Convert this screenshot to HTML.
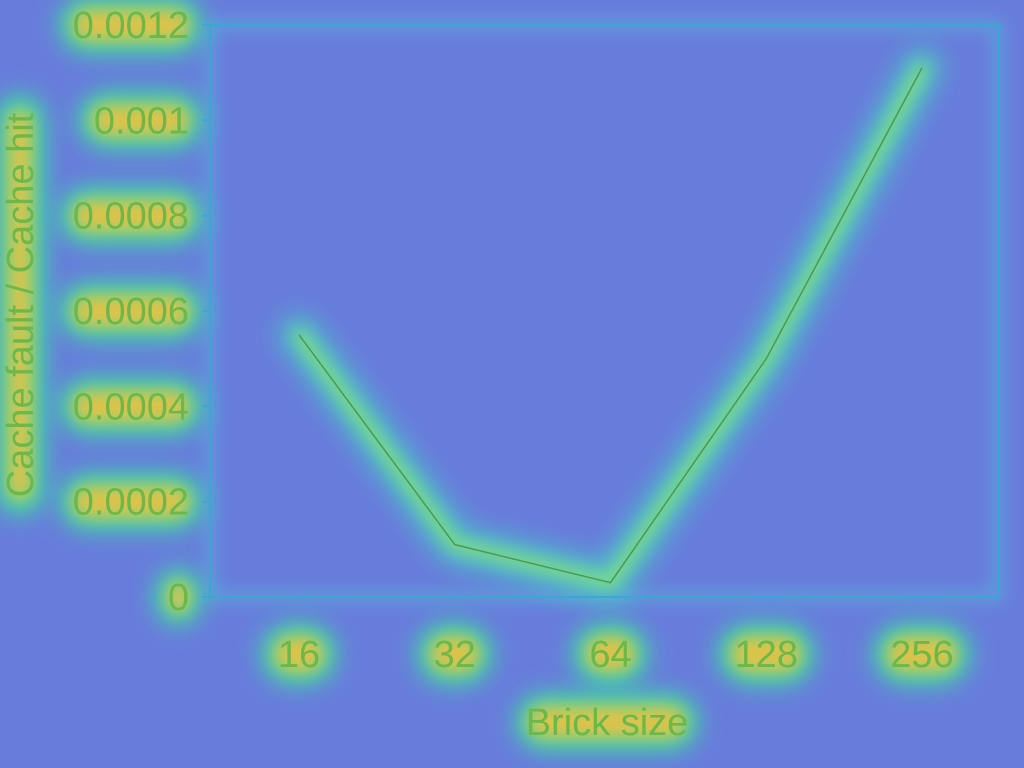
<!DOCTYPE html>
<html><head><meta charset="utf-8"><style>
html,body{margin:0;padding:0;width:1024px;height:768px;overflow:hidden;background:#687ddb;}
svg{display:block}
</style></head><body>
<svg id="chart" width="1024" height="768" font-family="Liberation Sans, sans-serif">
<defs>
<filter id="glow" x="-50%" y="-100%" width="200%" height="300%">
<feGaussianBlur stdDeviation="12"/>
</filter>
<filter id="glow2" x="-50%" y="-100%" width="200%" height="300%">
<feGaussianBlur stdDeviation="8"/>
</filter>
</defs>
<rect width="1024" height="768" fill="#687ddb"/>
<g id="glowLayer"></g>
<g id="mainLayer"></g>
</svg>
<script>
const categories = ['16','32','64','128','256'];
const values = [0.00055, 0.00011, 0.00003, 0.0005, 0.00111];
const yTicks = [0, 0.0002, 0.0004, 0.0006, 0.0008, 0.001, 0.0012];
const yTickLabels = ['0','0.0002','0.0004','0.0006','0.0008','0.001','0.0012'];

const L=210,R=998,T=25,B=597;
const yMax=0.0012;
const y=v=>B-(v/yMax)*(B-T);
const xPos=[299,454,610,767,922];
const x=i=>xPos[0]+i*(xPos[4]-xPos[0])/(categories.length-1);
const NS='http://www.w3.org/2000/svg';
const glow=document.getElementById('glowLayer');
const main=document.getElementById('mainLayer');
function mk(tag,attrs,parent){const e=document.createElementNS(NS,tag);for(const k in attrs)e.setAttribute(k,attrs[k]);parent.appendChild(e);return e;}

function glowText(cx,cy,w,h){
  mk('rect',{x:cx-w/2-6,y:cy-h/2,width:w+12,height:h,rx:h/2,fill:'#38e0a0',filter:'url(#glow)'},glow);
  mk('rect',{x:cx-w/2+6,y:cy-h/2+12,width:w-12,height:h-24,rx:(h-24)/2,fill:'#f0c040',opacity:0.9,filter:'url(#glow2)'},glow);
}

const frame=mk('rect',{x:L,y:T,width:R-L,height:B-T,fill:'none',stroke:'#3aa8d0','stroke-width':2},main);


mk('rect',{x:L,y:T,width:R-L,height:B-T,fill:'none',stroke:'#50d0e0','stroke-width':10,opacity:0.45,filter:'url(#glow2)'},glow);

yTicks.forEach((v,i)=>{
  const yy=y(v);
  const lbl=yTickLabels[i];
  const w=lbl.length*19;
  glowText(188-w/2,yy,w+16,56);
  const t=mk('text',{x:189,y:yy+13,'text-anchor':'end','font-size':38,fill:'#6cb84a'},main);
  t.textContent=lbl;
  
  
  const tk=mk('line',{x1:L-8,x2:L,y1:yy,y2:yy,stroke:'#3aa8d0','stroke-width':2},main);
  
  
});

categories.forEach((c,i)=>{
  const xx=x(i);
  const w=c.length*21;
  glowText(xx,654,w+20,60);
  const t=mk('text',{x:xx,y:667,'text-anchor':'middle','font-size':38,fill:'#6cb84a'},main);
  t.textContent=c;
  
  
});

glowText(607,722,170,56);
const xt=mk('text',{x:607,y:735,'text-anchor':'middle','font-size':38,fill:'#6cb84a'},main);
xt.textContent='Brick size';



mk('rect',{x:-4,y:95,width:48,height:420,rx:24,fill:'#38e0a0',filter:'url(#glow)'},glow);
mk('rect',{x:8,y:110,width:24,height:390,rx:12,fill:'#f0c040',opacity:0.9,filter:'url(#glow2)'},glow);
const yt=mk('text',{x:0,y:0,'text-anchor':'middle','font-size':38,fill:'#6cb84a',transform:'translate(33,305) rotate(-90)'},main);
yt.textContent='Cache fault / Cache hit';



const pts=values.map((v,i)=>x(i)+','+y(v)).join(' ');
mk('polyline',{points:pts,fill:'none',stroke:'#40d8c0','stroke-width':40,'stroke-linejoin':'round','stroke-linecap':'round',opacity:0.7,filter:'url(#glow)'},glow);
mk('polyline',{points:pts,fill:'none',stroke:'#90e870','stroke-width':10,'stroke-linejoin':'round','stroke-linecap':'round',filter:'url(#glow2)'},glow);
const line=mk('polyline',{points:pts,fill:'none',stroke:'#4a9a50','stroke-width':1.5},main);


</script>
</body></html>
